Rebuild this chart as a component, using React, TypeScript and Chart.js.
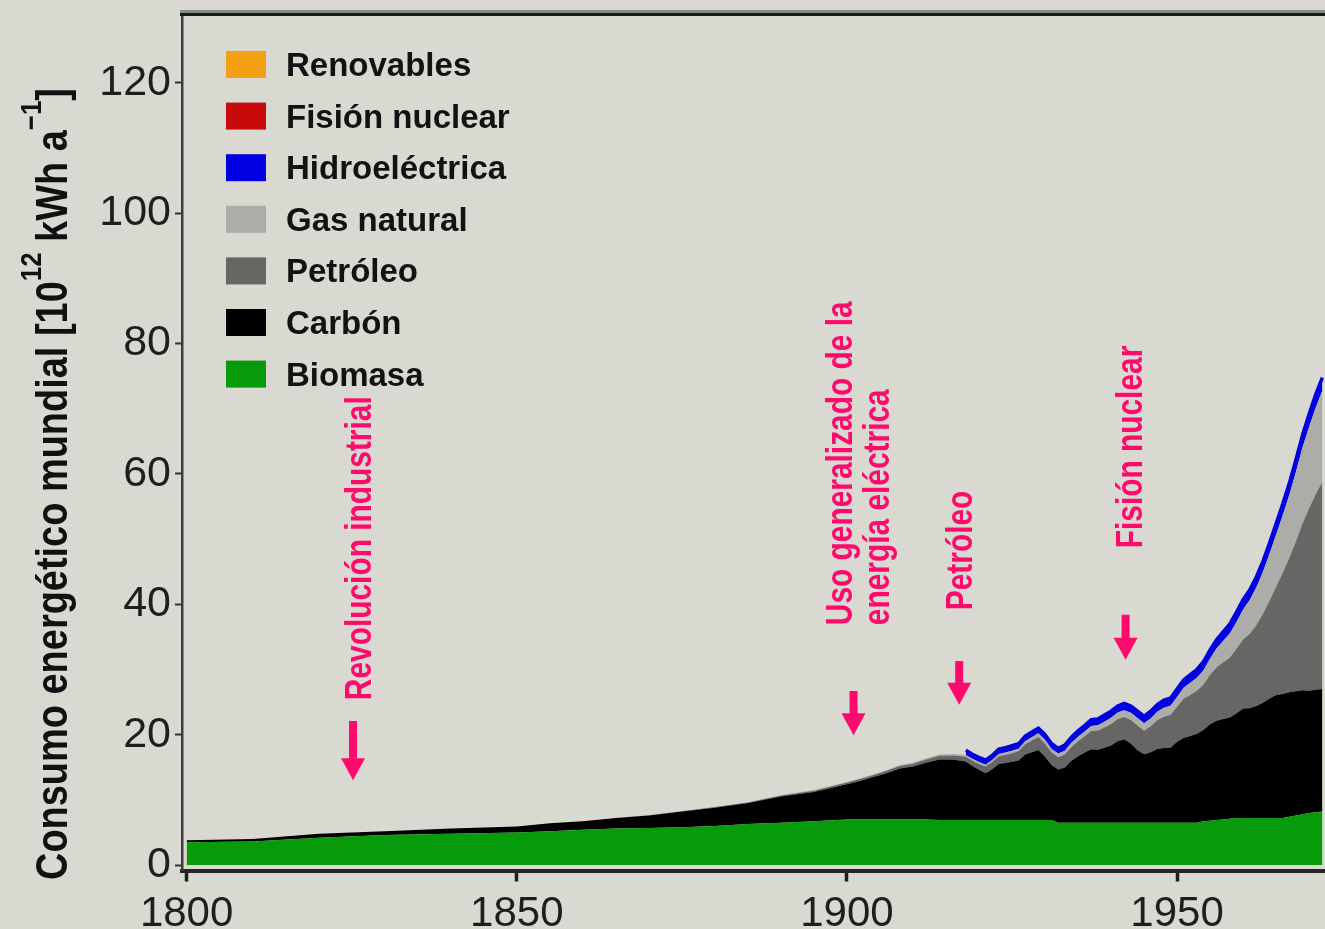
import React, { useEffect, useRef } from "react";
import { Chart, registerables } from "chart.js";

Chart.register(...registerables);

// ---------- data ----------
const years = [
  1800, 1810, 1820, 1830, 1840, 1850, 1855, 1860, 1865, 1870, 1875, 1880, 1885, 1890, 1895,
  1900, 1902, 1904, 1906, 1908, 1910, 1912, 1914, 1916,
  1918, 1919, 1920, 1921, 1922, 1923, 1924, 1925, 1926, 1927,
  1928, 1929, 1930, 1931, 1932, 1933, 1934, 1935, 1936, 1937,
  1938, 1939, 1940, 1941, 1942, 1943, 1944, 1945, 1946, 1947,
  1948, 1949, 1950, 1951, 1952, 1953, 1954, 1955, 1956, 1957,
  1958, 1959, 1960, 1961, 1962, 1963, 1964, 1965, 1966, 1967,
  1968, 1969, 1970, 1971, 1972,
];

const biomasa = [
  3.5, 3.6, 4.2, 4.6, 4.8, 5.0, 5.2, 5.4, 5.6, 5.7, 5.8, 6.0, 6.3, 6.5, 6.7,
  7.0, 7.0, 7.0, 7.0, 7.0, 7.0, 7.0, 6.9, 6.9,
  6.9, 6.9, 6.9, 6.9, 6.9, 6.9, 6.9, 6.9, 6.9, 6.9,
  6.9, 6.9, 6.9, 6.9, 6.5, 6.5, 6.5, 6.5, 6.5, 6.5,
  6.5, 6.5, 6.5, 6.5, 6.5, 6.5, 6.5, 6.5, 6.5, 6.5,
  6.5, 6.5, 6.5, 6.5, 6.5, 6.5, 6.7, 6.8, 6.9, 7.0,
  7.1, 7.2, 7.2, 7.2, 7.2, 7.2, 7.2, 7.2, 7.2, 7.4,
  7.6, 7.8, 8.0, 8.1, 8.2,
];

const carbon = [
  0.3, 0.4, 0.6, 0.6, 0.8, 0.9, 1.2, 1.3, 1.6, 1.9, 2.4, 2.8, 3.2, 4.0, 4.5,
  5.4, 5.9, 6.5, 7.1, 7.8, 8.1, 8.7, 9.3, 9.3,
  9.0, 8.3, 7.7, 7.2, 7.8, 8.6, 8.75, 8.95, 9.15, 10.05,
  10.4, 10.75, 9.7, 8.45, 8.15, 8.45, 9.5, 10.2, 10.75, 11.25,
  11.2, 11.5, 11.85, 12.5, 12.8, 12.15, 11.1, 10.5, 10.8, 11.3,
  11.45, 11.5, 12.4, 13.0, 13.3, 13.65, 14.0, 14.8, 15.25, 15.4,
  15.55, 16.1, 16.8, 16.85, 17.2, 17.7, 18.35, 18.9, 19.05, 19.1,
  19.05, 19.0, 18.75, 18.8, 18.8,
];

const petroleo = [
  0, 0, 0, 0, 0, 0, 0, 0, 0, 0.05, 0.05, 0.1, 0.1, 0.15, 0.2,
  0.25, 0.3, 0.3, 0.35, 0.4, 0.45, 0.5, 0.55, 0.6,
  0.7, 0.8, 0.9, 1.0, 1.1, 1.2, 1.25, 1.3, 1.4, 1.6,
  1.8, 2.0, 2.0, 1.9, 1.9, 2.0, 2.1, 2.3, 2.5, 2.8,
  2.9, 3.1, 3.3, 3.4, 3.4, 3.6, 3.8, 3.6, 4.0, 4.4,
  4.8, 5.0, 5.4, 6.0, 6.3, 6.6, 7.0, 7.6, 8.2, 8.7,
  9.2, 9.9, 10.6, 11.4, 12.4, 13.6, 15.0, 16.6, 18.6, 20.6,
  23.0, 25.6, 28.0, 30.0, 31.8,
];

const gasNatural = [
  0, 0, 0, 0, 0, 0, 0, 0, 0, 0, 0, 0, 0.05, 0.05, 0.1,
  0.1, 0.1, 0.1, 0.1, 0.15, 0.15, 0.2, 0.2, 0.25,
  0.3, 0.3, 0.3, 0.3, 0.3, 0.35, 0.35, 0.4, 0.4, 0.45,
  0.5, 0.55, 0.6, 0.55, 0.55, 0.6, 0.65, 0.7, 0.75, 0.8,
  0.85, 0.9, 0.95, 1.0, 1.05, 1.1, 1.15, 1.15, 1.2, 1.3,
  1.4, 1.45, 1.5, 1.7, 1.85, 2.0, 2.2, 2.5, 2.9, 3.3,
  3.7, 4.1, 4.6, 5.2, 5.8, 6.5, 7.2, 8.0, 8.8, 9.7,
  10.7, 11.7, 12.5, 13.3, 14.0,
];

// hydro appears from 1918 on
const hidroStartYear = 1918;
const hidroelectrica = [
  0.7, 0.7, 0.7, 0.7, 0.7, 0.75, 0.75, 0.75, 0.75, 0.8,
  0.8, 0.8, 0.8, 0.8, 0.8, 0.85, 0.85, 0.9, 0.9, 0.95,
  0.95, 1.0, 1.0, 1.0, 1.05, 1.05, 1.05, 1.05, 1.1, 1.1,
  1.15, 1.15, 1.2, 1.2, 1.25, 1.25, 1.3, 1.3, 1.35, 1.4,
  1.45, 1.5, 1.5, 1.55, 1.6, 1.6, 1.65, 1.7, 1.75, 1.8,
  1.85, 1.9, 1.95, 2.0, 2.0,
];

// not visible within the shown period
const fisionNuclear: number[] = [];
const renovables: number[] = [];

const seriesLabels = [
  "Biomasa", "Carbón", "Petróleo", "Gas natural", "Hidroeléctrica", "Fisión nuclear", "Renovables",
];
const seriesColors = [
  "#079a0b", "#000000", "#666664", "#acaca9", "#0000e0", "#c80a0a", "#f5a014",
];

const yTicks = [0, 20, 40, 60, 80, 100, 120];
const xTicks = [1800, 1850, 1900, 1950];

const yTitleParts = [
  { text: "Consumo energético mundial [10", sup: false },
  { text: "12", sup: true },
  { text: " kWh a", sup: false },
  { text: "−1", sup: true },
  { text: "]", sup: false },
];

const annotations = [
  { lines: ["Revolución industrial"], year: 1825.2, arrowTop: 22.1, arrowTip: 13.0, textStart: 25.3 },
  { lines: ["Uso generalizado de la", "energía eléctrica"], year: 1901.0, arrowTop: 26.7, arrowTip: 19.9, textStart: 36.8 },
  { lines: ["Petróleo"], year: 1917.0, arrowTop: 31.3, arrowTip: 24.6, textStart: 39.1 },
  { lines: ["Fisión nuclear"], year: 1942.2, arrowTop: 38.4, arrowTip: 31.5, textStart: 48.6 },
];
// pixel offsets of each text line's baseline from its arrow
const annotationLineOffsets = [[18], [-1.5, 35.5], [13], [16.5]];

// ---------- style ----------
const BG = "#d9d9d1";
const PINK = "#ff0a6c";
const FAMILY = "'Liberation Sans', Arial, Helvetica, sans-serif";

function pts(xs: number[], vs: number[]) {
  return vs.map((v, i) => ({ x: xs[i], y: v }));
}

const decorPlugin = {
  id: "decor",
  beforeDraw(chart: any) {
    const ctx = chart.ctx;
    ctx.save();
    ctx.fillStyle = BG;
    ctx.fillRect(0, 0, chart.width, chart.height);
    ctx.restore();
  },
  afterDraw(chart: any) {
    const { ctx, chartArea } = chart;
    const xs = chart.scales.x;
    const ys = chart.scales.y;

    // top frame line
    ctx.save();
    ctx.fillStyle = "#838c83";
    ctx.fillRect(chartArea.left - 2, chartArea.top - 4.5, chart.width, 3);
    ctx.fillStyle = "#141a14";
    ctx.fillRect(chartArea.left - 2, chartArea.top - 1.5, chart.width, 3);
    ctx.restore();

    // legend (reverse order of stacking)
    ctx.save();
    const dsets = [...chart.data.datasets].reverse();
    dsets.forEach((d: any, i: number) => {
      const top = 51 + i * 51.6;
      ctx.fillStyle = d.backgroundColor;
      ctx.fillRect(226, top, 40, 27);
      ctx.fillStyle = "#121212";
      ctx.font = `bold 33px ${FAMILY}`;
      ctx.textBaseline = "alphabetic";
      ctx.textAlign = "left";
      ctx.fillText(d.label, 286, top + 25);
    });
    ctx.restore();

    // annotations
    ctx.save();
    ctx.fillStyle = PINK;
    ctx.font = `bold 36px ${FAMILY}`;
    ctx.textBaseline = "alphabetic";
    ctx.textAlign = "left";
    annotations.forEach((a, i) => {
      const x = xs.getPixelForValue(a.year);
      const yTop = ys.getPixelForValue(a.arrowTop);
      const yTip = ys.getPixelForValue(a.arrowTip);
      const headH = 22;
      const headW = 24;
      const shaftW = 8;
      ctx.fillRect(x - shaftW / 2, yTop, shaftW, yTip - headH - yTop + 1);
      ctx.beginPath();
      ctx.moveTo(x - headW / 2, yTip - headH);
      ctx.lineTo(x + headW / 2, yTip - headH);
      ctx.lineTo(x, yTip);
      ctx.closePath();
      ctx.fill();
      const yText = ys.getPixelForValue(a.textStart);
      a.lines.forEach((line, j) => {
        ctx.save();
        ctx.translate(x + annotationLineOffsets[i][j], yText);
        ctx.rotate(-Math.PI / 2);
        ctx.scale(0.83, 1);
        ctx.fillText(line, 0, 0);
        ctx.restore();
      });
    });
    ctx.restore();

    // y-axis title with superscripts
    ctx.save();
    ctx.fillStyle = "#111111";
    ctx.textBaseline = "alphabetic";
    ctx.textAlign = "left";
    const mainFont = `bold 44px ${FAMILY}`;
    const supFont = `bold 30px ${FAMILY}`;
    let total = 0;
    const widths = yTitleParts.map((p) => {
      ctx.font = p.sup ? supFont : mainFont;
      const w = ctx.measureText(p.text).width;
      total += w;
      return w;
    });
    const startY = 880;
    const endY = 88;
    const k = (startY - endY) / total;
    ctx.translate(67, startY);
    ctx.rotate(-Math.PI / 2);
    ctx.scale(k, 1);
    let pos = 0;
    yTitleParts.forEach((p, i) => {
      ctx.font = p.sup ? supFont : mainFont;
      ctx.fillText(p.text, pos, p.sup ? -26 : 0);
      pos += widths[i];
    });
    ctx.restore();
  },
};

export default function App() {
  const ref = useRef<HTMLCanvasElement | null>(null);

  useEffect(() => {
    if (!ref.current) return;
    const hidroYears = years.slice(years.indexOf(hidroStartYear));
    const seriesData = [
      pts(years, biomasa),
      pts(years, carbon),
      pts(years, petroleo),
      pts(years, gasNatural),
      pts(hidroYears, hidroelectrica),
      pts(years, fisionNuclear),
      pts(years, renovables),
    ];
    const datasets = seriesData.map((data, i) => {
      const isHydro = seriesLabels[i] === "Hidroeléctrica";
      return {
        label: seriesLabels[i],
        data,
        backgroundColor: seriesColors[i],
        borderColor: isHydro ? seriesColors[i] : "rgba(0,0,0,0)",
        borderWidth: isHydro ? 3.5 : 0,
        fill: i === 0 ? "origin" : "-1",
        pointRadius: 0,
        pointHoverRadius: 0,
        tension: 0,
        spanGaps: false,
      };
    });

    const chart = new Chart(ref.current, {
      type: "line",
      data: { datasets } as any,
      plugins: [decorPlugin],
      options: {
        responsive: false,
        maintainAspectRatio: false,
        animation: false,
        devicePixelRatio: 1,
        layout: { padding: { top: 14.5, right: 0, bottom: 0, left: 0 } },
        plugins: {
          legend: { display: false },
          tooltip: { enabled: false },
          title: { display: false },
        },
        scales: {
          x: {
            type: "linear",
            min: 1799.3,
            max: 1972.4,
            afterFit: (scale: any) => {
              scale.height = 58.5;
              scale.paddingLeft = 0;
              scale.paddingRight = 0;
            },
            afterBuildTicks: (scale: any) => {
              scale.ticks = xTicks.map((v) => ({ value: v }));
            },
            grid: {
              display: true,
              drawOnChartArea: false,
              drawTicks: true,
              tickLength: 11,
              tickWidth: 3.5,
              tickColor: "#1e1e1e",
            },
            border: { display: true, color: "#262626", width: 4 },
            ticks: {
              autoSkip: false,
              maxRotation: 0,
              padding: 8,
              color: "#1e1e1e",
              font: { family: FAMILY, size: 42 },
              callback: (v: any) => String(v),
            },
          },
          y: {
            type: "linear",
            stacked: true,
            min: -0.84,
            max: 130.5,
            afterFit: (scale: any) => {
              scale.width = 182;
              scale.paddingTop = 0;
              scale.paddingBottom = 0;
            },
            afterBuildTicks: (scale: any) => {
              scale.ticks = yTicks.map((v) => ({ value: v }));
            },
            grid: {
              display: true,
              drawOnChartArea: false,
              drawTicks: true,
              tickLength: 7,
              tickWidth: 2,
              tickColor: "#333333",
            },
            border: { display: true, color: "#3c3c3c", width: 2.5 },
            ticks: {
              autoSkip: false,
              padding: 4,
              color: "#1e1e1e",
              font: { family: FAMILY, size: 43 },
              callback: (v: any) => String(v),
            },
          },
        },
      } as any,
    });
    return () => chart.destroy();
  }, []);

  return (
    <div
      style={{
        position: "fixed",
        left: 0,
        top: 0,
        width: 1325,
        height: 929,
        background: BG,
        overflow: "hidden",
      }}
    >
      <canvas
        ref={ref}
        width={1325}
        height={929}
        style={{ display: "block", width: 1325, height: 929 }}
      />
    </div>
  );
}
